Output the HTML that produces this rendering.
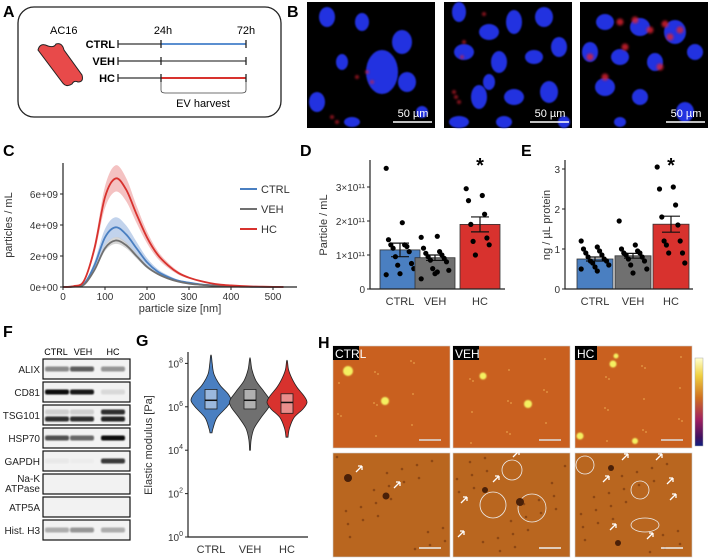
<!DOCTYPE html>
<html><head><meta charset="utf-8"><style>
html,body{margin:0;padding:0;background:#fff;}
svg{display:block;font-family:"Liberation Sans",Arial,sans-serif;}
</style></head><body>
<svg id="fig" width="708" height="559" viewBox="0 0 708 559" xmlns="http://www.w3.org/2000/svg">
<defs>
<filter id="blur1" x="-50%" y="-50%" width="200%" height="200%"><feGaussianBlur stdDeviation="1.2"/></filter>
<filter id="blur2" x="-50%" y="-50%" width="200%" height="200%"><feGaussianBlur stdDeviation="0.8"/></filter>
<linearGradient id="cbar" x1="0" y1="0" x2="0" y2="1">
<stop offset="0" stop-color="#ffffd0"/><stop offset="0.2" stop-color="#f0d040"/><stop offset="0.45" stop-color="#d07020"/><stop offset="0.7" stop-color="#a02060"/><stop offset="0.9" stop-color="#401060"/><stop offset="1" stop-color="#102080"/></linearGradient>
</defs>

<!-- Panel A -->
<g>
<text x="3" y="17" font-size="16" font-weight="bold">A</text>
<rect x="18" y="7" width="263" height="110" rx="16" fill="none" stroke="#222" stroke-width="1.3"/>
<text x="50" y="34" font-size="11">AC16</text>
<path d="M38,50 Q40,42 48,46 Q54,48 56,44 Q62,42 64,50 L82,75 Q84,82 78,82 Q74,80 72,84 Q66,88 62,82 Z" fill="#e84a4a" stroke="#222" stroke-width="1"/>
<text x="163" y="34" font-size="11" text-anchor="middle">24h</text>
<text x="246" y="34" font-size="11" text-anchor="middle">72h</text>
<g font-size="11" font-weight="bold" text-anchor="end">
<text x="115" y="48">CTRL</text>
<text x="115" y="65">VEH</text>
<text x="115" y="82">HC</text>
</g>
<g stroke-width="1.3">
<line x1="118" y1="44" x2="161" y2="44" stroke="#333"/><line x1="161" y1="44" x2="246" y2="44" stroke="#5b8fd0" stroke-width="2"/>
<line x1="118" y1="61" x2="161" y2="61" stroke="#333"/><line x1="161" y1="61" x2="246" y2="61" stroke="#888" stroke-width="2"/>
<line x1="118" y1="78" x2="161" y2="78" stroke="#333"/><line x1="161" y1="78" x2="246" y2="78" stroke="#d8322e" stroke-width="2"/>
<g stroke="#222"><line x1="118" y1="40" x2="118" y2="48"/><line x1="161" y1="40" x2="161" y2="48"/><line x1="246" y1="40" x2="246" y2="48"/>
<line x1="118" y1="57" x2="118" y2="65"/><line x1="161" y1="57" x2="161" y2="65"/><line x1="246" y1="57" x2="246" y2="65"/>
<line x1="118" y1="74" x2="118" y2="82"/><line x1="161" y1="74" x2="161" y2="82"/><line x1="246" y1="74" x2="246" y2="82"/></g>
</g>
<path d="M161,82 L161,90 Q161,93 165,93 L242,93 Q246,93 246,90 L246,82" fill="none" stroke="#444" stroke-width="0.8"/>
<text x="203" y="107" font-size="11" text-anchor="middle">EV harvest</text>
</g>

<!-- Panel B -->
<g>
<text x="287" y="17" font-size="16" font-weight="bold">B</text>
<g id="micro"></g>
</g>

<!-- Panel C -->
<g>
<text x="3" y="156" font-size="16" font-weight="bold">C</text>
<g id="chartC"></g>
</g>
<!-- Panel D -->
<g>
<text x="300" y="156" font-size="16" font-weight="bold">D</text>
<g id="chartD"></g>
</g>
<!-- Panel E -->
<g>
<text x="521" y="156" font-size="16" font-weight="bold">E</text>
<g id="chartE"></g>
</g>
<!-- Panel F -->
<g>
<text x="3" y="337" font-size="16" font-weight="bold">F</text>
<g font-size="9" text-anchor="middle">
<text x="56" y="355">CTRL</text>
<text x="83" y="355">VEH</text>
<text x="113" y="355">HC</text>
</g>
<g id="blots"></g>
</g>
<!-- Panel G -->
<g>
<text x="136" y="346" font-size="16" font-weight="bold">G</text>
<g id="chartG"></g>
</g>
<!-- Panel H -->
<g>
<text x="318" y="348" font-size="16" font-weight="bold">H</text>
<g id="afm"></g>
<rect x="695" y="358" width="8" height="88" fill="url(#cbar)" stroke="#aaa" stroke-width="0.5"/>
</g>
</svg>
<script>
// ---------- Chart C data ----------
const sizesC = [0,25,50,75,100,125,150,175,200,225,250,275,300,325,350,375,400,425,450,475,500,525];
const ctrlC = [0,0.03,0.2,1.4,3.2,3.85,3.4,2.5,1.6,1.0,0.65,0.4,0.28,0.18,0.12,0.08,0.05,0.03,0.02,0.01,0,0];
const vehC  = [0,0.02,0.15,1.1,2.5,3.0,2.7,2.0,1.3,0.85,0.55,0.35,0.22,0.15,0.1,0.06,0.04,0.02,0.01,0.01,0,0];
const hcC   = [0,0.05,0.4,2.5,5.8,7.0,6.3,4.7,3.2,2.1,1.4,0.9,0.6,0.4,0.25,0.15,0.1,0.06,0.03,0.02,0.01,0];
const ctrlSem = [0,0.01,0.04,0.25,0.55,0.65,0.58,0.42,0.27,0.17,0.11,0.07,0.05,0.03,0.02,0.01,0.01,0,0,0,0,0];
const vehSem  = [0,0,0.01,0.08,0.18,0.22,0.2,0.15,0.1,0.06,0.04,0.03,0.02,0.01,0.01,0,0,0,0,0,0,0];
const hcSem   = [0,0.01,0.05,0.3,0.7,0.85,0.75,0.56,0.38,0.25,0.17,0.11,0.07,0.05,0.03,0.02,0.01,0.01,0,0,0,0];
const xTicksC = [0,100,200,300,400,500];
const yTicksC = [0,2,4,6];
const yTickLabelsC = ["0e+00","2e+09","4e+09","6e+09"];
const legendC = ["CTRL","VEH","HC"];
// ---------- Chart D data ----------
const catsDE = ["CTRL","VEH","HC"];
const meanD = [1.15,0.92,1.9];
const semD = [0.2,0.08,0.22];
const ptsD = [
 [3.55,1.95,1.45,1.3,1.3,1.25,1.2,1.1,0.95,0.75,0.7,0.6,0.45,0.42],
 [1.52,1.55,1.2,1.1,1.05,1.0,0.95,0.9,0.85,0.8,0.6,0.55,0.45,0.3,0.5],
 [2.95,2.75,2.6,2.2,1.9,1.5,1.4,1.3,1.0]
];
const yTicksD = [0,1,2,3];
const yTickLabelsD = ["0","1×10¹¹","2×10¹¹","3×10¹¹"];
// ---------- Chart E data ----------
const meanE = [0.75,0.83,1.62];
const semE = [0.05,0.06,0.2];
const ptsE = [
 [1.2,1.05,1.0,0.95,0.9,0.85,0.8,0.75,0.7,0.7,0.65,0.6,0.55,0.5,0.45],
 [1.7,1.1,1.0,0.95,0.9,0.9,0.85,0.8,0.75,0.7,0.6,0.5,0.4],
 [3.05,2.55,2.5,2.1,1.8,1.6,1.2,1.2,1.1,0.9,0.9,0.65]
];
const yTicksE = [0,1,2,3];
// ---------- Chart G data (log10 Pa) ----------
const catsG = ["CTRL","VEH","HC"];
const violinLevels = [
 [4.8,5.0,5.5,6.0,6.3,6.6,7.0,7.5,8.0,8.35],
 [4.0,4.5,5.0,5.5,6.0,6.3,6.7,7.2,7.7,8.2],
 [4.6,5.0,5.5,5.9,6.2,6.5,6.9,7.3,7.7,8.1]
];
const violinWidths = [
 [0.05,0.1,0.3,0.8,1,0.85,0.45,0.15,0.06,0.02],
 [0.02,0.06,0.2,0.55,0.95,1,0.7,0.3,0.1,0.02],
 [0.05,0.12,0.35,0.8,1,0.85,0.5,0.25,0.08,0.02]
];
const boxQ1 = [5.9,5.9,5.7];
const boxMed = [6.3,6.3,6.2];
const boxQ3 = [6.8,6.8,6.6];
const yTicksG = [0,2,4,6,8];

const NS="http://www.w3.org/2000/svg";
function mk(parent,tag,attrs){const e=document.createElementNS(NS,tag);for(const k in attrs)e.setAttribute(k,attrs[k]);parent.appendChild(e);return e;}
function smooth(pts){let d="M"+pts[0][0]+","+pts[0][1];for(let i=0;i<pts.length-1;i++){const p0=pts[Math.max(0,i-1)],p1=pts[i],p2=pts[i+1],p3=pts[Math.min(pts.length-1,i+2)];const c1=[p1[0]+(p2[0]-p0[0])/6,p1[1]+(p2[1]-p0[1])/6],c2=[p2[0]-(p3[0]-p1[0])/6,p2[1]-(p3[1]-p1[1])/6];d+=" C"+c1[0]+","+c1[1]+" "+c2[0]+","+c2[1]+" "+p2[0]+","+p2[1];}return d;}
const cols={CTRL:"#4a7fc1",VEH:"#707070",HC:"#d8322e"};
const bandCols={CTRL:"#a8c0e4",VEH:"#c4c4c4",HC:"#f0a8a8"};

// ---- Chart C ----
(function(){
const g=document.getElementById('chartC');
const X0=63,X1=297,Y0=287,YT=163;
const xs=v=>X0+v*(273-63)/500, ys=v=>Y0-v*(Y0-194)/6;
const series=[["CTRL",ctrlC,ctrlSem],["VEH",vehC,vehSem],["HC",hcC,hcSem]];
series.forEach(([n,vals,sem])=>{
 const up=sizesC.map((s,i)=>[xs(s),ys(vals[i]+sem[i])]);
 const lo=sizesC.map((s,i)=>[xs(s),ys(Math.max(0,vals[i]-sem[i]))]).reverse();
 const d=smooth(up)+" L"+lo[0][0]+","+lo[0][1]+smooth(lo).slice(smooth(lo).indexOf("C")-1)+" Z";
 const b=mk(g,'path',{d:d,fill:bandCols[n],opacity:0.7});
 
 
});
series.forEach(([n,vals])=>{
 const l=mk(g,'path',{d:smooth(sizesC.map((s,i)=>[xs(s),ys(vals[i])])),fill:'none',stroke:cols[n],'stroke-width':1.8});
 
 
});
const ax=mk(g,'path',{d:`M${X0},${YT} L${X0},${Y0} L${X1},${Y0}`,fill:'none',stroke:'#222','stroke-width':1.2});


xTicksC.forEach(t=>{mk(g,'line',{x1:xs(t),x2:xs(t),y1:Y0,y2:Y0+3,stroke:'#222'});
 const tx=mk(g,'text',{x:xs(t),y:Y0+13,'font-size':10,'text-anchor':'middle',fill:'#333'});tx.textContent=t;
 
 });
yTicksC.forEach((t,i)=>{mk(g,'line',{x1:X0-3,x2:X0,y1:ys(t),y2:ys(t),stroke:'#222'});
 const tx=mk(g,'text',{x:X0-5,y:ys(t)+4,'font-size':10,'text-anchor':'end',fill:'#333'});tx.textContent=yTickLabelsC[i];
 
 });
const xl=mk(g,'text',{x:180,y:312,'font-size':11,'text-anchor':'middle',fill:'#333'});xl.textContent='particle size [nm]';


const yl=mk(g,'text',{x:0,y:0,'font-size':11,'text-anchor':'middle',fill:'#333',transform:'translate(12,225) rotate(-90)'});yl.textContent='particles / mL';


legendC.forEach((n,i)=>{const y=189+i*20;
 mk(g,'line',{x1:240,x2:257,y1:y,y2:y,stroke:cols[n],'stroke-width':2});
 const t=mk(g,'text',{x:261,y:y+4,'font-size':11,fill:'#333'});t.textContent=n;
 
 });
})();

// ---- bar charts ----
function barChart(id,means,sems,pts,ticks,tickLabels,cfg){
 const g=document.getElementById(id);
 const ys=v=>cfg.Y0-v*cfg.unit;
 means.forEach((m,i)=>{const x=cfg.bx[i];const n=catsDE[i];
  const r=mk(g,'rect',{x:x,y:ys(m),width:cfg.bw,height:cfg.Y0-ys(m),fill:cols[n],stroke:'#333','stroke-width':0.8});
  
  
  const cx=x+cfg.bw/2;
  mk(g,'path',{d:`M${cx-9},${ys(m+sems[i])} L${cx+9},${ys(m+sems[i])} M${cx},${ys(m+sems[i])} L${cx},${ys(m-sems[i])} M${cx-9},${ys(m-sems[i])} L${cx+9},${ys(m-sems[i])}`,stroke:'#111','stroke-width':1.2,fill:'none'});
  pts[i].forEach((p,j)=>{const off=((j*7)%13-6)*2.3;
   const c=mk(g,'circle',{cx:cx+off,cy:ys(p),r:2.6,fill:'#000'});
   
   });
  const t=mk(g,'text',{x:cx,y:cfg.Y0+16,'font-size':11,'text-anchor':'middle',fill:'#333'});t.textContent=n;
  
  
 });
 const ax=mk(g,'path',{d:`M${cfg.X0},${cfg.YT} L${cfg.X0},${cfg.Y0} L${cfg.X1},${cfg.Y0}`,fill:'none',stroke:'#222','stroke-width':1.2});
 
 
 ticks.forEach((t,i)=>{mk(g,'line',{x1:cfg.X0-3,x2:cfg.X0,y1:ys(t),y2:ys(t),stroke:'#222'});
  const tx=mk(g,'text',{x:cfg.X0-5,y:ys(t)+4,'font-size':10,'text-anchor':'end',fill:'#333'});tx.textContent=tickLabels[i];
  
  });
 const yl=mk(g,'text',{x:0,y:0,'font-size':11,'text-anchor':'middle',fill:'#333',transform:`translate(${cfg.lx},225) rotate(-90)`});yl.textContent=cfg.title;
 
 
 const s=mk(g,'text',{x:cfg.bx[2]+cfg.bw/2,y:172,'font-size':20,'font-weight':'bold','text-anchor':'middle'});s.textContent='*';
 
 
}
barChart('chartD',meanD,semD,ptsD,yTicksD,yTickLabelsD,{X0:370,X1:505,Y0:289,YT:160,unit:34,bx:[380,415,460],bw:40,lx:327,title:'Particle / mL'});
barChart('chartE',meanE,semE,ptsE,yTicksE,yTicksE.map(String),{X0:565,X1:693,Y0:289,YT:160,unit:40,bx:[577,615,653],bw:36,lx:550,title:'ng / µL protein'});

// ---- Chart G ----
(function(){
const g=document.getElementById('chartG');
const X0=188,X1=308,Y0=537,YT=352,dec=21.7;
const ys=v=>Y0-v*dec; const cx=[211,250,287];
catsG.forEach((n,i)=>{
 const L=violinLevels[i],W=violinWidths[i];
 const right=L.map((l,j)=>[cx[i]+W[j]*20,ys(l)]);
 const left=L.map((l,j)=>[cx[i]-W[j]*20,ys(l)]).reverse();
 const all=right.concat(left);
 const v=mk(g,'path',{d:smooth(all)+" Z",fill:cols[n],stroke:'#222','stroke-width':0.8});
 
 
 const b=mk(g,'rect',{x:cx[i]-6,y:ys(boxQ3[i]),width:12,height:ys(boxQ1[i])-ys(boxQ3[i]),fill:'#fff','fill-opacity':0.45,stroke:'#222','stroke-width':0.8});
 
 
 mk(g,'line',{x1:cx[i]-6,x2:cx[i]+6,y1:ys(boxMed[i]),y2:ys(boxMed[i]),stroke:'#111','stroke-width':1.5});
 const t=mk(g,'text',{x:cx[i],y:553,'font-size':11,'text-anchor':'middle',fill:'#333'});t.textContent=n;
 
 
});
const ax=mk(g,'path',{d:`M${X0},${YT} L${X0},${Y0} L${X1},${Y0}`,fill:'none',stroke:'#222','stroke-width':1.2});


yTicksG.forEach(t=>{mk(g,'line',{x1:X0-3,x2:X0,y1:ys(t),y2:ys(t),stroke:'#222'});
 const tx=mk(g,'text',{x:X0-5,y:ys(t)+4,'font-size':10,'text-anchor':'end',fill:'#333'});
 tx.textContent='10';const sp=mk(tx,'tspan',{dy:-5,'font-size':7});sp.textContent=t;
 
 });
const yl=mk(g,'text',{x:0,y:0,'font-size':11,'text-anchor':'middle',fill:'#333',transform:'translate(152,445) rotate(-90)'});yl.textContent='Elastic modulus [Pa]';


})();

// ---- Western blots ----
(function(){
const g=document.getElementById('blots');
const rows=[["ALIX",359,[[0.45,0.65,0.4]]],["CD81",382,[[1,0.95,0.1]]],["TSG101",405,[[0.85,0.85,0.9],[0.15,0.15,0.85]]],["HSP70",428,[[0.7,0.6,1]]],["GAPDH",451,[[0.04,0.02,0.8]]],["Na-K|ATPase",474,[[0,0,0]]],["ATP5A",497,[[0,0,0]]],["Hist. H3",520,[[0.3,0.4,0.3]]]];
const lanes=[57,82,113];
rows.forEach(([name,y,bands])=>{
 const r=mk(g,'rect',{x:43,y:y,width:87,height:20,fill:'#f2f2f2',stroke:'#111','stroke-width':1.2});
 
 
 bands.forEach((b,k)=>{const by=bands.length>1?(k==0?y+14:y+7):y+10;
  b.forEach((a,li)=>{if(a>0)mk(g,'rect',{x:lanes[li]-12,y:by-2.5,width:24,height:5,rx:2,fill:'#111',opacity:a,filter:'url(#blur2)'});});});
 const parts=name.split('|');
 parts.forEach((p,k)=>{const t=mk(g,'text',{x:40,y:y+(parts.length>1?8+k*10:14),'font-size':10,'text-anchor':'end',fill:'#222'});t.textContent=p;
  
  });
});
})();

// ---- Microscopy B ----
(function(){
const g=document.getElementById('micro');
const xs=[307,444,580];
const nuclei=[
 [[20,15,8,10],[55,20,7,9],[95,40,10,12],[75,70,16,22],[115,110,6,6],[100,80,9,10],[10,100,8,10],[45,120,8,5],[35,60,6,8]],
 [[15,10,7,10],[45,30,10,8],[70,20,8,12],[100,15,9,10],[20,50,10,8],[55,60,8,11],[90,55,9,7],[115,45,8,10],[35,95,8,12],[70,95,10,8],[105,90,9,11],[15,120,10,6],[60,120,8,6],[120,120,6,6],[45,80,6,8]],
 [[25,20,9,8],[60,25,10,9],[95,30,11,12],[10,50,8,10],[40,55,9,8],[75,60,8,9],[115,50,8,8],[25,85,10,9],[60,95,8,8],[105,110,9,10],[40,120,6,5]]
];
const red=[[[60,70],[65,80],[50,75],[25,115],[30,120]],[[20,40],[18,55],[40,12],[10,90],[12,95],[15,100]],[[40,20],[55,18],[70,28],[85,22],[90,35],[10,55],[25,75],[80,65],[45,45],[100,28]]];
xs.forEach((x0,i)=>{
 const r=mk(g,'rect',{x:x0,y:2,width:128,height:126,fill:'#000'});
 
 
 nuclei[i].forEach(n=>mk(g,'ellipse',{cx:x0+n[0],cy:2+n[1],rx:n[2],ry:n[3],fill:'#2030e0',filter:'url(#blur2)'}));
 red[i].forEach(p=>mk(g,'circle',{cx:x0+p[0],cy:2+p[1],r:i==2?3.5:1.8,fill:'#e02030',opacity:0.8,filter:'url(#blur1)'}));
 mk(g,'line',{x1:x0+86,x2:x0+125,y1:122,y2:122,stroke:'#fff','stroke-width':1.5});
 const t=mk(g,'text',{x:x0+106,y:117,'font-size':11,'text-anchor':'middle',fill:'#fff'});t.textContent='50 µm';
 
 
});
})();

// ---- AFM H ----
(function(){
const g=document.getElementById('afm');
const xs=[333,453,575],labels=["CTRL","VEH","HC"];
const blobs=[[[15,25,5],[52,55,4]],[[30,30,3.5],[75,58,4]],[[38,18,3.5],[41,10,2.5],[5,90,3.5],[60,95,3]]];
xs.forEach((x0,i)=>{
 const t=mk(g,'rect',{x:x0,y:346,width:117,height:102,fill:'#c9601f',stroke:'#ccc','stroke-width':0.6});
 
 
 blobs[i].forEach(b=>mk(g,'circle',{cx:x0+b[0],cy:346+b[1],r:b[2],fill:'#f4f060',filter:'url(#blur2)'}));
 for(let k=0;k<14;k++)mk(g,'circle',{cx:x0+((k*37+i*13)%110)+4,cy:350+((k*53+i*29)%95),r:1,fill:'#e09040'});
 mk(g,'line',{x1:x0+86,x2:x0+108,y1:440,y2:440,stroke:'#ddd','stroke-width':1.5});
 const b=mk(g,'rect',{x:x0,y:453,width:117,height:104,fill:'#b9661f',stroke:'#ccc','stroke-width':0.6});
 
 
 for(let k=0;k<22;k++)mk(g,'circle',{cx:x0+((k*41+i*17)%110)+4,cy:457+((k*59+i*31)%97),r:1.3,fill:'#7a3a10',opacity:0.7});
 mk(g,'line',{x1:x0+86,x2:x0+108,y1:548,y2:548,stroke:'#eee','stroke-width':1.5});
 const lb=mk(g,'rect',{x:x0,y:346,width:i==0?26:(i==1?26:22),height:14,fill:'#000'});
 const tx=mk(g,'text',{x:x0+2,y:358,'font-size':12,fill:'#fff'});tx.textContent=labels[i];
 
 
});
const circles=[[512,470,10],[493,505,13],[532,508,14],[585,465,9],[640,490,9],[645,525,14,7]];
circles.forEach(c=>mk(g,'ellipse',{cx:c[0],cy:c[1],rx:c[2],ry:c[3]||c[2],fill:'none',stroke:'#eee','stroke-width':0.8}));
const pits=[[348,478,4],[386,496,3.5],[485,490,3],[611,468,3],[618,543,3],[520,502,4]];
pits.forEach(p=>mk(g,'circle',{cx:p[0],cy:p[1],r:p[2],fill:'#4a2008'}));
const arrows=[[356,472],[394,488],[493,482],[513,457],[461,503],[458,537],[622,460],[603,482],[656,460],[667,484],[670,500],[610,530],[647,539]];
arrows.forEach(a=>{const ar=mk(g,'path',{d:`M${a[0]},${a[1]} l6,-6 M${a[0]+6},${a[1]-6} l-4,0 M${a[0]+6},${a[1]-6} l0,4`,stroke:'#fff','stroke-width':1.3,fill:'none'});
 
 });
})();
</script>
</body></html>
